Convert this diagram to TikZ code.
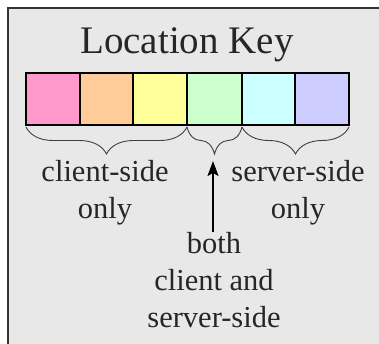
\documentclass[tikz,border=0pt]{standalone}
\usepackage{fontspec}
\setmainfont{Liberation Serif}
\usetikzlibrary{decorations.pathreplacing,arrows.meta}
\definecolor{bgkey}{HTML}{E8E8E8}
\definecolor{c1}{HTML}{FF99CC}
\definecolor{c2}{HTML}{FFCC99}
\definecolor{c3}{HTML}{FFFF99}
\definecolor{c4}{HTML}{CCFFCC}
\definecolor{c5}{HTML}{CCFFFF}
\definecolor{c6}{HTML}{CCCCFF}
\tikzset{
  swatch/.style={draw=black, line width=1.6pt},
  keybrace/.style={decorate, decoration={brace, mirror, amplitude=27pt}, draw=black!75, line width=0.9pt},
  lbl/.style={font=\fontsize{30.5}{37}\selectfont, align=center, inner sep=0pt, text=black!85},
}
\begin{document}
\begin{tikzpicture}[x=1pt,y=-1pt]
\useasboundingbox (0,0) rectangle (379,343);
\clip (0,0) rectangle (379,343);
\fill[white] (0,0) rectangle (379,343);
\draw[fill=bgkey, draw=black!80, line width=2.4pt] (8,8) rectangle (400,360);
\node[font=\fontsize{39}{45}\selectfont, anchor=base, inner sep=0pt, text=black!85] (title) at (187,53) {Location Key};
\foreach \i/\a/\b in {1/26/80,2/80/133,3/133/187,4/187/242,5/242/295,6/295/349}{
  \path[swatch, fill=c\i] (\a,73) rectangle (\b,125);
}
\coordinate (b0) at (26,127);
\coordinate (b1) at (187,127);
\coordinate (b2) at (242,127);
\coordinate (b3) at (349,127);
\draw[keybrace] (b0) -- (b1);
\draw[keybrace] (b1) -- (b2);
\draw[keybrace] (b2) -- (b3);
\node[lbl, anchor=base] (cli) at (105,218) {client-side\\only};
\node[lbl, anchor=base] (srv) at (298,218) {server-side\\only};
\node[lbl, anchor=base] (both) at (214,327) {both\\client and\\server-side};
\coordinate (tip) at (213,161);
\draw[-{Stealth[length=15pt,width=11pt,inset=3pt]}, line width=1.6pt] (both.north -| tip) -- (tip);
\end{tikzpicture}
\end{document}
